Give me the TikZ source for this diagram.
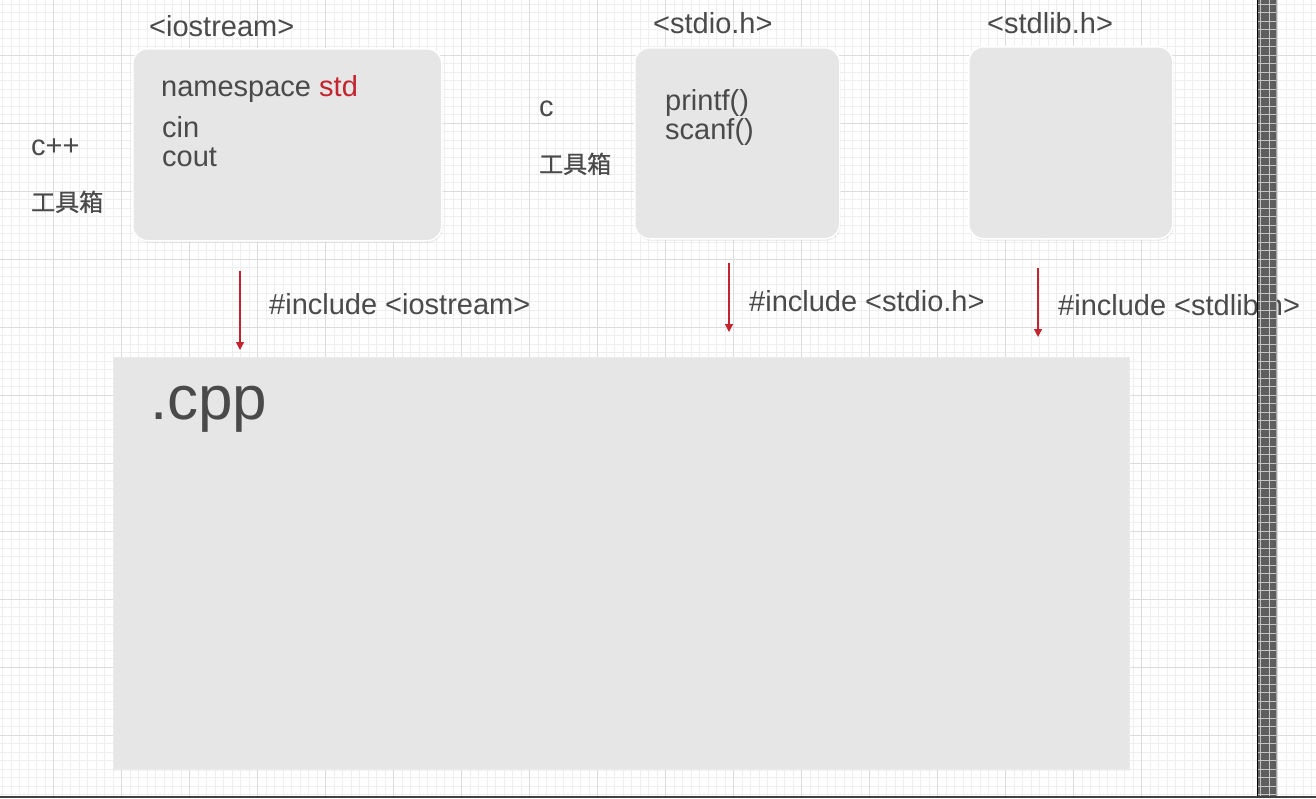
\documentclass[tikz,border=0pt]{standalone}
\usepackage{fontspec}
\setmainfont{Liberation Sans}
\newfontfamily\cjk[FakeBold=0.8]{Noto Sans CJK SC}
\usepackage{xcolor}
\usepackage{tikz}
\usetikzlibrary{calc, positioning, arrows.meta, shadows}
\definecolor{txtgray}{HTML}{4A4A4A}
\definecolor{incred}{HTML}{C4242E}
\definecolor{boxgray}{HTML}{E6E6E6}
\definecolor{gridminor}{HTML}{EEEEEE}
\definecolor{gridmajor}{HTML}{DCDCDC}
\definecolor{stripgray}{HTML}{5E5E5E}
\definecolor{stripline}{HTML}{C4C4C4}

\begin{document}
\begin{tikzpicture}[
  x=1pt, y=-1pt,
  lib/.style={fill=boxgray, draw=white, line width=1.5pt, rounded corners=15pt, anchor=north west, inner sep=0pt, drop shadow={opacity=0.12, shadow xshift=1pt, shadow yshift=-2pt}},
  src/.style={fill=boxgray, draw=white!92!black, line width=0.8pt, anchor=north west, inner sep=0pt, drop shadow={opacity=0.08, shadow xshift=1pt, shadow yshift=-1.5pt}},
  txt/.style={anchor=base west, inner sep=0pt, text=txtgray, font=\fontsize{29}{34}\selectfont},
  zh/.style={anchor=base west, inner sep=0pt, text=txtgray, font=\cjk\fontsize{24}{28}\selectfont},
  big/.style={txt, font=\fontsize{62}{70}\selectfont},
  inc/.style={-{Triangle[width=8pt, length=8pt]}, line width=1.2pt, color=incred}
]
\useasboundingbox (0,0) rectangle (1316,798);
\fill[white] (0,0) rectangle (1316,798);

% grid
\foreach \i in {0,...,154} \draw[gridminor, line width=0.8pt] ({2.5+8.5*\i},0) -- ({2.5+8.5*\i},798);
\foreach \j in {0,...,93} \draw[gridminor, line width=0.8pt] (0,{4+8.5*\j}) -- (1316,{4+8.5*\j});
\foreach \i in {0,...,18} \draw[gridmajor, line width=1pt] ({53.5+68*\i},0) -- ({53.5+68*\i},798);
\foreach \j in {0,...,10} \draw[gridmajor, line width=1pt] (0,{55+68*\j}) -- (1316,{55+68*\j});

% header boxes
\node[lib, minimum width=309pt, minimum height=192pt] (iobox) at (132,48) {};
\node[lib, minimum width=205pt, minimum height=191pt] (stdiobox) at (634,47) {};
\node[lib, minimum width=204pt, minimum height=192pt] (stdlibbox) at (968,46) {};

% source file
\node[src, minimum width=1016pt, minimum height=412pt] (cppbox) at (113,357) {};

% titles
\node[txt] (iotitle) at (149,36) {<iostream>};
\node[txt] (stdiotitle) at (653,33) {<stdio.h>};
\node[txt] (stdlibtitle) at (987,33) {<stdlib.h>};

% contents
\node[txt] (ns) at (161,96) {namespace \textcolor{incred}{std}};
\node[txt] (cin) at (162,137) {cin};
\node[txt] (cout) at (162,166) {cout};
\node[txt] (printf) at (665,110) {printf()};
\node[txt] (scanf) at (665,139) {scanf()};

% side labels
\node[txt] (cpplang) at (31,155) {c++};
\node[zh] (cpptools) at (31,211) {工具箱};
\node[txt] (clang) at (539,116) {c};
\node[zh] (ctools) at (539,173) {工具箱};

\node[big] (cppname) at (150,419) {.cpp};

% includes
\coordinate (io top) at (240,271);
\coordinate (io end) at (240,350);
\coordinate (stdio top) at (729,263);
\coordinate (stdio end) at (729,332);
\coordinate (stdlib top) at (1038,268);
\coordinate (stdlib end) at (1038,337);
\draw[inc] (io top) -- (io end);
\draw[inc] (stdio top) -- (stdio end);
\draw[inc] (stdlib top) -- (stdlib end);
\node[txt] (ioinc) at (269,314) {\#include <iostream>};
\node[txt] (stdioinc) at (749,311) {\#include <stdio.h>};
\node[txt] (stdlibinc) at (1058,315) {\#include <stdlib.h>};

% scroll strip
\fill[stripgray] (1257,0) rectangle (1277,798);
\begin{scope}
  \clip (1258,0) rectangle (1276,798);
  \foreach \i in {148,149,150} \draw[stripline, line width=1pt] ({2.5+8.5*\i},0) -- ({2.5+8.5*\i},798);
  \foreach \j in {0,...,93} \draw[stripline, line width=1pt] (0,{4+8.5*\j}) -- (1316,{4+8.5*\j});
\end{scope}
\draw[black, line width=1.6pt] (1257.5,0) -- (1257.5,798);
\draw[black!35, line width=1pt] (1276.5,0) -- (1276.5,798);
\draw[black!75, line width=2pt] (0,797) -- (1316,797);
\end{tikzpicture}
\end{document}
